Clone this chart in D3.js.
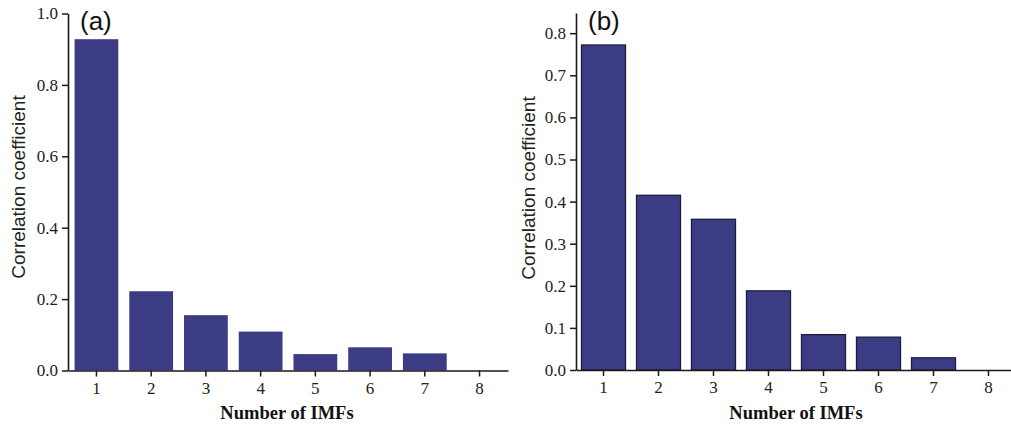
<!DOCTYPE html>
<html>
<head>
<meta charset="utf-8">
<script src="https://cdn.jsdelivr.net/npm/d3@7"></script>
<style>
  html, body { margin: 0; padding: 0; background: #fff; }
  svg { display: block; }
</style>
</head>
<body>
<svg id="chart" width="1011" height="431"></svg>
<script>
// ---- data ----
const categories = ["1", "2", "3", "4", "5", "6", "7", "8"];
const valuesA = [0.928, 0.222, 0.155, 0.109, 0.046, 0.065, 0.048, 0];
const valuesB = [0.772, 0.415, 0.358, 0.188, 0.084, 0.078, 0.029, 0];
const yTicksA = [0, 0.2, 0.4, 0.6, 0.8, 1.0];
const yTicksB = [0, 0.1, 0.2, 0.3, 0.4, 0.5, 0.6, 0.7, 0.8];
const panelLabels = ["(a)", "(b)"];
const xTitle = "Number of IMFs";
const yTitle = "Correlation coefficient";

const svg = d3.select("#chart");
const barColor = "#3c3c85";
const axisColor = "#1a1a1a";

function panel(cfg) {
  const g = svg.append("g");
  const x = d3.scaleBand().domain(categories)
    .range([cfg.x0, cfg.x1]).paddingInner(0.2).paddingOuter(cfg.po);
  const y = d3.scaleLinear().domain([0, cfg.ymax]).range([cfg.y0, cfg.ytop]);

  g.selectAll("rect.bar").data(cfg.values).enter().append("rect")
    .attr("class", "bar")
    .attr("x", (d, i) => x(categories[i]))
    .attr("width", x.bandwidth())
    .attr("y", d => y(d))
    .attr("height", d => y(0) - y(d))
    .attr("fill", barColor)
    .attr("stroke", cfg.outline ? "#1c1c40" : "none")
    .attr("stroke-width", cfg.outline ? 1.3 : 0)
    .attr("display", d => d > 0 ? null : "none");

  const xa = g.append("g").attr("transform", `translate(0,${cfg.y0})`)
    .call(d3.axisBottom(x).tickSize(6).tickSizeOuter(0).tickPadding(5));
  xa.attr("font-size", null);
  xa.selectAll("text").attr("font-family", "'Liberation Serif', 'Times New Roman', serif")
    .style("font-size", "17px").attr("fill", "#222");

  const ya = g.append("g").attr("transform", `translate(${cfg.x0},0)`)
    .call(d3.axisLeft(y).tickValues(cfg.yTicks).tickFormat(d3.format(".1f"))
      .tickSize(6).tickSizeOuter(0).tickPadding(4));
  ya.attr("font-size", null);
  ya.selectAll("text").attr("font-family", "'Liberation Serif', 'Times New Roman', serif")
    .style("font-size", "17px").attr("fill", "#222");

  [xa, ya].forEach(a => {
    a.select(".domain").attr("stroke", axisColor).attr("stroke-width", 1.6);
    a.selectAll(".tick line").attr("stroke", axisColor).attr("stroke-width", 1.5);
  });

  g.append("text")
    .attr("x", cfg.titleX).attr("y", 419)
    .attr("text-anchor", "middle")
    .attr("font-family", "'Liberation Serif', 'Times New Roman', serif")
    .attr("font-weight", "bold").style("font-size", "18.5px").attr("fill", "#111")
    .text(xTitle);

  g.append("text")
    .attr("transform", `translate(${cfg.yTitleX},${cfg.yTitleY}) rotate(-90)`)
    .attr("text-anchor", "middle")
    .attr("font-family", "'Liberation Sans', Arial, sans-serif")
    .style("font-size", "19px").attr("fill", "#222")
    .text(yTitle);

  g.append("text")
    .attr("x", cfg.labelX).attr("y", 30)
    .attr("font-family", "'Liberation Sans', Arial, sans-serif")
    .style("font-size", "26px").attr("fill", "#111")
    .text(cfg.label);
}

panel({ values: valuesA, yTicks: yTicksA, ymax: 1.0, x0: 68, x1: 508, po: 0.12,
        y0: 370.5, ytop: 13.5, outline: false, titleX: 287, yTitleX: 25, yTitleY: 187,
        labelX: 80, label: panelLabels[0] });
panel({ values: valuesB, yTicks: yTicksB, ymax: 0.848, x0: 576, x1: 1016, po: 0.1,
        y0: 370, ytop: 13, outline: true, titleX: 796, yTitleX: 535, yTitleY: 188,
        labelX: 588, label: panelLabels[1] });
</script>
</body>
</html>
